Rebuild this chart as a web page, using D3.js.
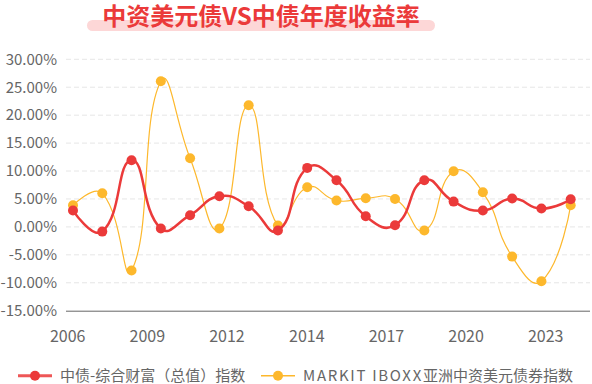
<!DOCTYPE html>
<html>
<head>
<meta charset="utf-8">
<script src="https://cdn.jsdelivr.net/npm/d3@7/dist/d3.min.js"></script>
<style>
  body { margin: 0; background: #fff; }
  svg { font-family: "Noto Sans CJK SC", "Noto Sans", sans-serif; }
</style>
</head>
<body>
<div id="chart"></div>
<script>
let years = [2006, 2007, 2008, 2009, 2010, 2011, 2012, 2013, 2014, 2015,
             2016, 2017, 2018, 2019, 2020, 2021, 2022, 2023];
let chinaBond = [2.92, -0.84, 11.92, -0.30, 2.1, 5.48, 3.69, -0.66, 10.56, 8.35,
                 1.9, 0.29, 8.35, 4.53, 2.92, 5.07, 3.28, 4.94];
let markit = [3.87, 6.01, -7.82, 26.06, 12.28, -0.30, 21.77, 0.23, 7.09, 4.71,
              5.12, 5.01, -0.66, 9.95, 6.19, -5.32, -9.73, 3.87];
let yTicks = [-15, -10, -5, 0, 5, 10, 15, 20, 25, 30];
let xTickLabels = ['2006', '2009', '2012', '2014', '2017', '2020', '2023'];
let xTickIdx = [-0.2, 2.52, 5.24, 7.97, 10.69, 13.41, 16.13];
let seriesNames = ['中债-综合财富（总值）指数', 'MARKIT IBOXX亚洲中资美元债券指数'];

let width = 592;
let height = 384;
let red = '#eb3a3a';
let yellow = '#fdb82c';

// echarts-style smooth line (smooth = 0.5)
function smoothCurve(context) {
  let pts = [];
  return {
    areaStart() {}, areaEnd() {},
    lineStart() { pts = []; },
    point(x, y) { pts.push([x, y]); },
    lineEnd() {
      let s = 0.5;
      let n = pts.length;
      context.moveTo(pts[0][0], pts[0][1]);
      let cp0 = pts[0];
      for (let i = 1; i < n; i++) {
        let p = pts[i], prev = pts[i - 1];
        let cpIn, cpOut;
        if (i === n - 1) {
          cpIn = p; cpOut = p;
        } else {
          let next = pts[i + 1];
          let vx = (next[0] - prev[0]) * s, vy = (next[1] - prev[1]) * s;
          let l0 = Math.hypot(p[0] - prev[0], p[1] - prev[1]);
          let l1 = Math.hypot(next[0] - p[0], next[1] - p[1]);
          let r = l1 / (l0 + l1);
          cpIn = [p[0] - vx * (1 - r), p[1] - vy * (1 - r)];
          cpOut = [p[0] + vx * r, p[1] + vy * r];
        }
        context.bezierCurveTo(cp0[0], cp0[1], cpIn[0], cpIn[1], p[0], p[1]);
        cp0 = cpOut;
      }
    }
  };
}

let svg = d3.select('#chart').append('svg')
  .attr('width', width)
  .attr('height', height);

// title
svg.append('rect')
  .attr('x', 87).attr('y', 20)
  .attr('width', 348).attr('height', 11)
  .attr('rx', 5.5)
  .attr('fill', '#fdd7d7');
svg.append('text')
  .attr('x', 261).attr('y', 25)
  .attr('text-anchor', 'middle')
  .attr('font-size', 24)
  .attr('font-weight', 'bold')
  .attr('fill', red)
  .text('中资美元债VS中债年度收益率');

let x = d3.scaleLinear().domain([0, years.length - 1]).range([73, 570.7]);
let y = d3.scaleLinear().domain([-15, 30]).range([310.7, 59.3]);

// grid
svg.append('g')
  .selectAll('line')
  .data(yTicks.filter(d => d !== -15))
  .enter()
  .append('line')
  .attr('x1', 66).attr('x2', 590)
  .attr('y1', d => y(d)).attr('y2', d => y(d))
  .attr('stroke', '#e6e6e6')
  .attr('stroke-dasharray', '5,3');

// y axis labels
let yAxis = d3.axisLeft(y)
  .tickValues(yTicks)
  .tickSize(0)
  .tickPadding(0)
  .tickFormat(d => d.toFixed(2) + '%');
svg.append('g')
  .attr('transform', 'translate(57,0)')
  .call(yAxis)
  .call(g => g.select('.domain').remove())
  .selectAll('text')
  .attr('font-size', 15)
  .attr('font-family', '"Noto Sans CJK SC", sans-serif')
  .attr('fill', '#666');

// x axis
let xAxis = d3.axisBottom(x)
  .tickValues(xTickIdx)
  .tickSize(0)
  .tickPadding(20)
  .tickFormat((d, i) => xTickLabels[i]);
svg.append('g')
  .attr('transform', 'translate(0,' + y(-15) + ')')
  .call(xAxis)
  .call(g => g.select('.domain')
    .attr('d', 'M66,0.5H590')
    .attr('stroke', '#666'))
  .selectAll('text')
  .attr('font-size', 16)
  .attr('font-family', '"Noto Sans CJK SC", sans-serif')
  .attr('fill', '#666');

let line = d3.line()
  .x((d, i) => x(i))
  .y(d => y(d))
  .curve(smoothCurve);

function drawSeries(values, color, lw) {
  svg.append('path')
    .datum(values)
    .attr('d', line)
    .attr('fill', 'none')
    .attr('stroke', color)
    .attr('stroke-width', lw);
  svg.append('g')
    .selectAll('circle')
    .data(values)
    .enter()
    .append('circle')
    .attr('cx', (d, i) => x(i))
    .attr('cy', d => y(d))
    .attr('r', 5)
    .attr('fill', color);
}

drawSeries(markit, yellow, 1.2);
drawSeries(chinaBond, red, 2.5);

// legend
let legend = [
  { name: seriesNames[0], color: red, lw: 3, x: 18 },
  { name: seriesNames[1], color: yellow, lw: 1.5, x: 261 }
];
let lg = svg.append('g').selectAll('g')
  .data(legend)
  .enter()
  .append('g')
  .attr('transform', d => 'translate(' + d.x + ',375.7)');
lg.append('line')
  .attr('x1', 0).attr('x2', 34)
  .attr('stroke', d => d.color)
  .attr('stroke-opacity', d => d.lw > 2 ? 0.85 : 1)
  .attr('stroke-width', d => d.lw);
lg.append('circle')
  .attr('cx', 17)
  .attr('r', 5)
  .attr('fill', d => d.color);
let lt = lg.append('text')
  .attr('x', 42)
  .attr('dy', '0.35em')
  .attr('font-size', 15)
  .attr('fill', '#666');
// latin part is drawn a bit wider, as in the source
lt.each(function (d) {
  let m = d.name.match(/^([A-Za-z ]+)(.*)$/);
  let t = d3.select(this);
  if (m) {
    t.append('tspan').attr('letter-spacing', 1.7).text(m[1]);
    t.append('tspan').text(m[2]);
  } else {
    t.text(d.name);
  }
});
</script>
</body>
</html>
